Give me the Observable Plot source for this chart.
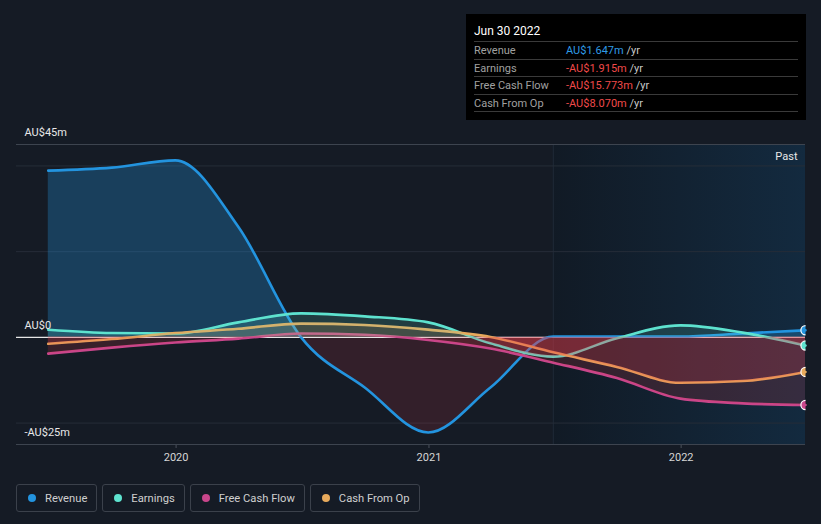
<!DOCTYPE html>
<html><head><meta charset="utf-8">
<script src="https://cdn.jsdelivr.net/npm/d3@7"></script>
<script src="https://cdn.jsdelivr.net/npm/@observablehq/plot@0.6"></script>
<style>
body{margin:0;background:#151b25;font-family:Roboto,"Noto Sans",sans-serif;}
#wrap{position:relative;width:821px;height:524px;overflow:hidden;background:#151b25;}
#chart{position:absolute;left:0;top:0;}
[aria-label="x-axis"] line,[aria-label="x-axis tick"] path{stroke:#4a505a;}
#tip{position:absolute;left:466px;top:14px;width:340px;height:106px;background:#000;}
#tip .title{position:absolute;left:8px;top:9px;font-size:12px;color:#fff;line-height:16px;}
#tip .row{position:absolute;left:8px;width:324px;height:17.5px;line-height:17.5px;border-top:1px solid #3a3a3a;font-size:11px;box-sizing:border-box;}
#tip .row .lab{position:absolute;left:0;color:#a0a0a0;}
#tip .row .val{position:absolute;left:92px;}
#tip .row .unit{color:#c8c8c8;}
#tip .end{position:absolute;left:8px;top:97px;width:324px;border-top:1px solid #3a3a3a;}
#legend{position:absolute;left:16px;top:484px;display:flex;gap:5px;}
#legend .item{height:28px;box-sizing:border-box;border:1px solid #3b414b;border-radius:3px;padding:0 9px 0 11px;display:flex;align-items:center;font-size:11.2px;color:#cfcfcf;}
#legend .dot{width:8px;height:8px;border-radius:50%;margin-right:9px;}
</style></head><body>
<div id="wrap"><div id="chart"></div><div id="tip"></div><div id="legend"></div></div>
<script>
// ---- data (AU$ millions, trailing twelve months) ----
const dates = ["2019-06-30","2019-09-30","2019-12-31","2020-03-31","2020-06-30","2020-09-30","2020-12-31","2021-03-31","2021-06-30","2021-09-30","2021-12-31","2022-03-31","2022-06-30"];
const revenue = [38.9, 39.6, 41.3, 25.8, 0.0, -11.7, -22.2, -11.7, 0.2, 0.2, 0.2, 0.9, 1.647];
const earnings = [1.76, 1.0, 0.9, 3.5, 5.6, 4.9, 3.5, -1.4, -4.5, -0.2, 2.8, 1.1, -1.915];
const freeCashFlow = [-3.8, -2.4, -1.2, -0.3, 0.9, 0.6, -0.6, -2.6, -5.9, -9.5, -14.3, -15.4, -15.773];
const cashFromOp = [-1.5, -0.4, 1.0, 2.0, 3.2, 2.9, 1.8, 0.1, -3.5, -6.9, -10.6, -10.2, -8.07];

const seriesNames = ["Revenue", "Earnings", "Free Cash Flow", "Cash From Op"];
const seriesKeys = ["revenue", "earnings", "freeCashFlow", "cashFromOp"];
const seriesColors = ["#2394df", "#5ee3cf", "#c9468b", "#e8aa5c"];

const xDomain = ["2019-05-15", "2022-06-30"];
const tickDates = ["2020-01-01", "2021-01-01", "2022-01-01"];
const pastStart = "2021-06-30";
const yDomain = [-25, 45];
const gridValues = [-20, 20, 40];
const yLabelValues = [45, 0, -25];
const yLabelTexts = ["AU$45m", "AU$0", "-AU$25m"];

const tipTitle = "Jun 30 2022";
const tipValues = ["AU$1.647m", "-AU$1.915m", "-AU$15.773m", "-AU$8.070m"];
const tipColors = ["#2f9be6", "#f04a4a", "#f04a4a", "#f04a4a"];

// ---- build ----
const parse = d3.utcParse("%Y-%m-%d");
const rows = dates.map((d, i) => ({
  date: parse(d), revenue: revenue[i], earnings: earnings[i],
  freeCashFlow: freeCashFlow[i], cashFromOp: cashFromOp[i]
}));
const last = [rows[rows.length - 1]];

function fills(key, color, posOpacity, negOpacity) {
  return [
    Plot.areaY(rows, {x: "date", y1: 0, y2: key, curve: "monotone-x", fill: color, fillOpacity: posOpacity}),
    Plot.areaY(rows, {x: "date", y1: 0, y2: key, curve: "monotone-x", fill: "#e53a4a", fillOpacity: negOpacity})
  ];
}

const chart = Plot.plot({
  width: 821, height: 470,
  marginLeft: 16, marginRight: 16, marginTop: 144, marginBottom: 26,
  style: {background: "transparent", color: "#d6d6d6", fontFamily: "Roboto, sans-serif", fontSize: "11px", overflow: "visible"},
  x: {type: "utc", domain: xDomain.map(parse), ticks: tickDates.map(parse), tickFormat: d3.utcFormat("%Y"), tickSize: 4, tickPadding: 5, label: null},
  y: {domain: yDomain, axis: null},
  marks: [
    Plot.rect([{x1: parse(pastStart), x2: parse(xDomain[1])}], {x1: "x1", x2: "x2", y1: yDomain[0], y2: yDomain[1], fill: "url(#pastGrad)"}),
    Plot.ruleX([parse(pastStart)], {y1: yDomain[0], y2: yDomain[1], stroke: "#1f2a38", strokeWidth: 1}),
    Plot.ruleY(gridValues, {stroke: "#262d38", strokeWidth: 1}),
    Plot.ruleY([yDomain[1]], {stroke: "#3d444f", strokeWidth: 1}),
    Plot.ruleY([yDomain[0]], {stroke: "#3d444f", strokeWidth: 1}),
    ...fills("revenue", seriesColors[0], 0.3, 0.15),
    Plot.ruleY([0], {stroke: "#e6e6e6", strokeWidth: 1.3}),
    ...seriesKeys.map((k, i) => Plot.line(rows, {x: "date", y: k, stroke: seriesColors[i], strokeWidth: 2.6, curve: "monotone-x"})),
    ...fills("earnings", seriesColors[1], 0.17, 0.22),
    ...fills("freeCashFlow", seriesColors[2], 0.17, 0.17),
    ...fills("cashFromOp", seriesColors[3], 0.17, 0.2),
    ...seriesKeys.map((k, i) => Plot.dot(last, {x: "date", y: k, r: 4.6, fill: seriesColors[i], stroke: "#ffffff", strokeWidth: 1.2})),
    Plot.text(yLabelValues, {y: d => d, text: (d, i) => yLabelTexts[i], frameAnchor: "left", dx: 8, dy: -12, textAnchor: "start", fill: "#e8e8e8", fontSize: 11}),
    Plot.text(["Past"], {text: d => d, frameAnchor: "top-right", dx: -8, dy: 12, lineAnchor: "middle", textAnchor: "end", fill: "#e8e8e8", fontSize: 11})
  ]
});

// defs: gradient + clip paths derived from the scales
const yS = chart.scale("y"), xS = chart.scale("x");
const y0 = yS.apply(0);
const xRight = xS.apply(parse(xDomain[1]));
const svg = d3.select(chart);
const defs = svg.insert("defs", ":first-child");
const g = defs.append("linearGradient").attr("id", "pastGrad").attr("x1", 0).attr("x2", 1).attr("y1", 0).attr("y2", 0);
g.append("stop").attr("offset", 0).attr("stop-color", "#111a25");
g.append("stop").attr("offset", 1).attr("stop-color", "#132a3f");
defs.append("clipPath").attr("id", "clipPos").append("rect").attr("x", 0).attr("y", 0).attr("width", 821).attr("height", y0);
defs.append("clipPath").attr("id", "clipNeg").append("rect").attr("x", 0).attr("y", y0).attr("width", 821).attr("height", 470 - y0);
defs.append("clipPath").attr("id", "clipFrame").append("rect").attr("x", 0).attr("y", 0).attr("width", xRight).attr("height", 470);
chart.querySelectorAll('g[aria-label="area"]').forEach((el, i) => {
  el.setAttribute("clip-path", i % 2 === 0 ? "url(#clipPos)" : "url(#clipNeg)");
});
chart.querySelectorAll('g[aria-label="dot"]').forEach(el => el.setAttribute("clip-path", "url(#clipFrame)"));
document.getElementById("chart").appendChild(chart);

// tooltip box
const tip = document.getElementById("tip");
tip.innerHTML = `<div class="title">${tipTitle}</div>` +
  seriesNames.map((n, i) => `<div class="row" style="top:${27 + i * 17.5}px"><span class="lab">${n}</span><span class="val"><span style="color:${tipColors[i]}">${tipValues[i]}</span><span class="unit"> /yr</span></span></div>`).join("") +
  `<div class="end"></div>`;

// legend
document.getElementById("legend").innerHTML = seriesNames.map((n, i) =>
  `<div class="item"><span class="dot" style="background:${seriesColors[i]}"></span>${n}</div>`).join("");
</script></body></html>
